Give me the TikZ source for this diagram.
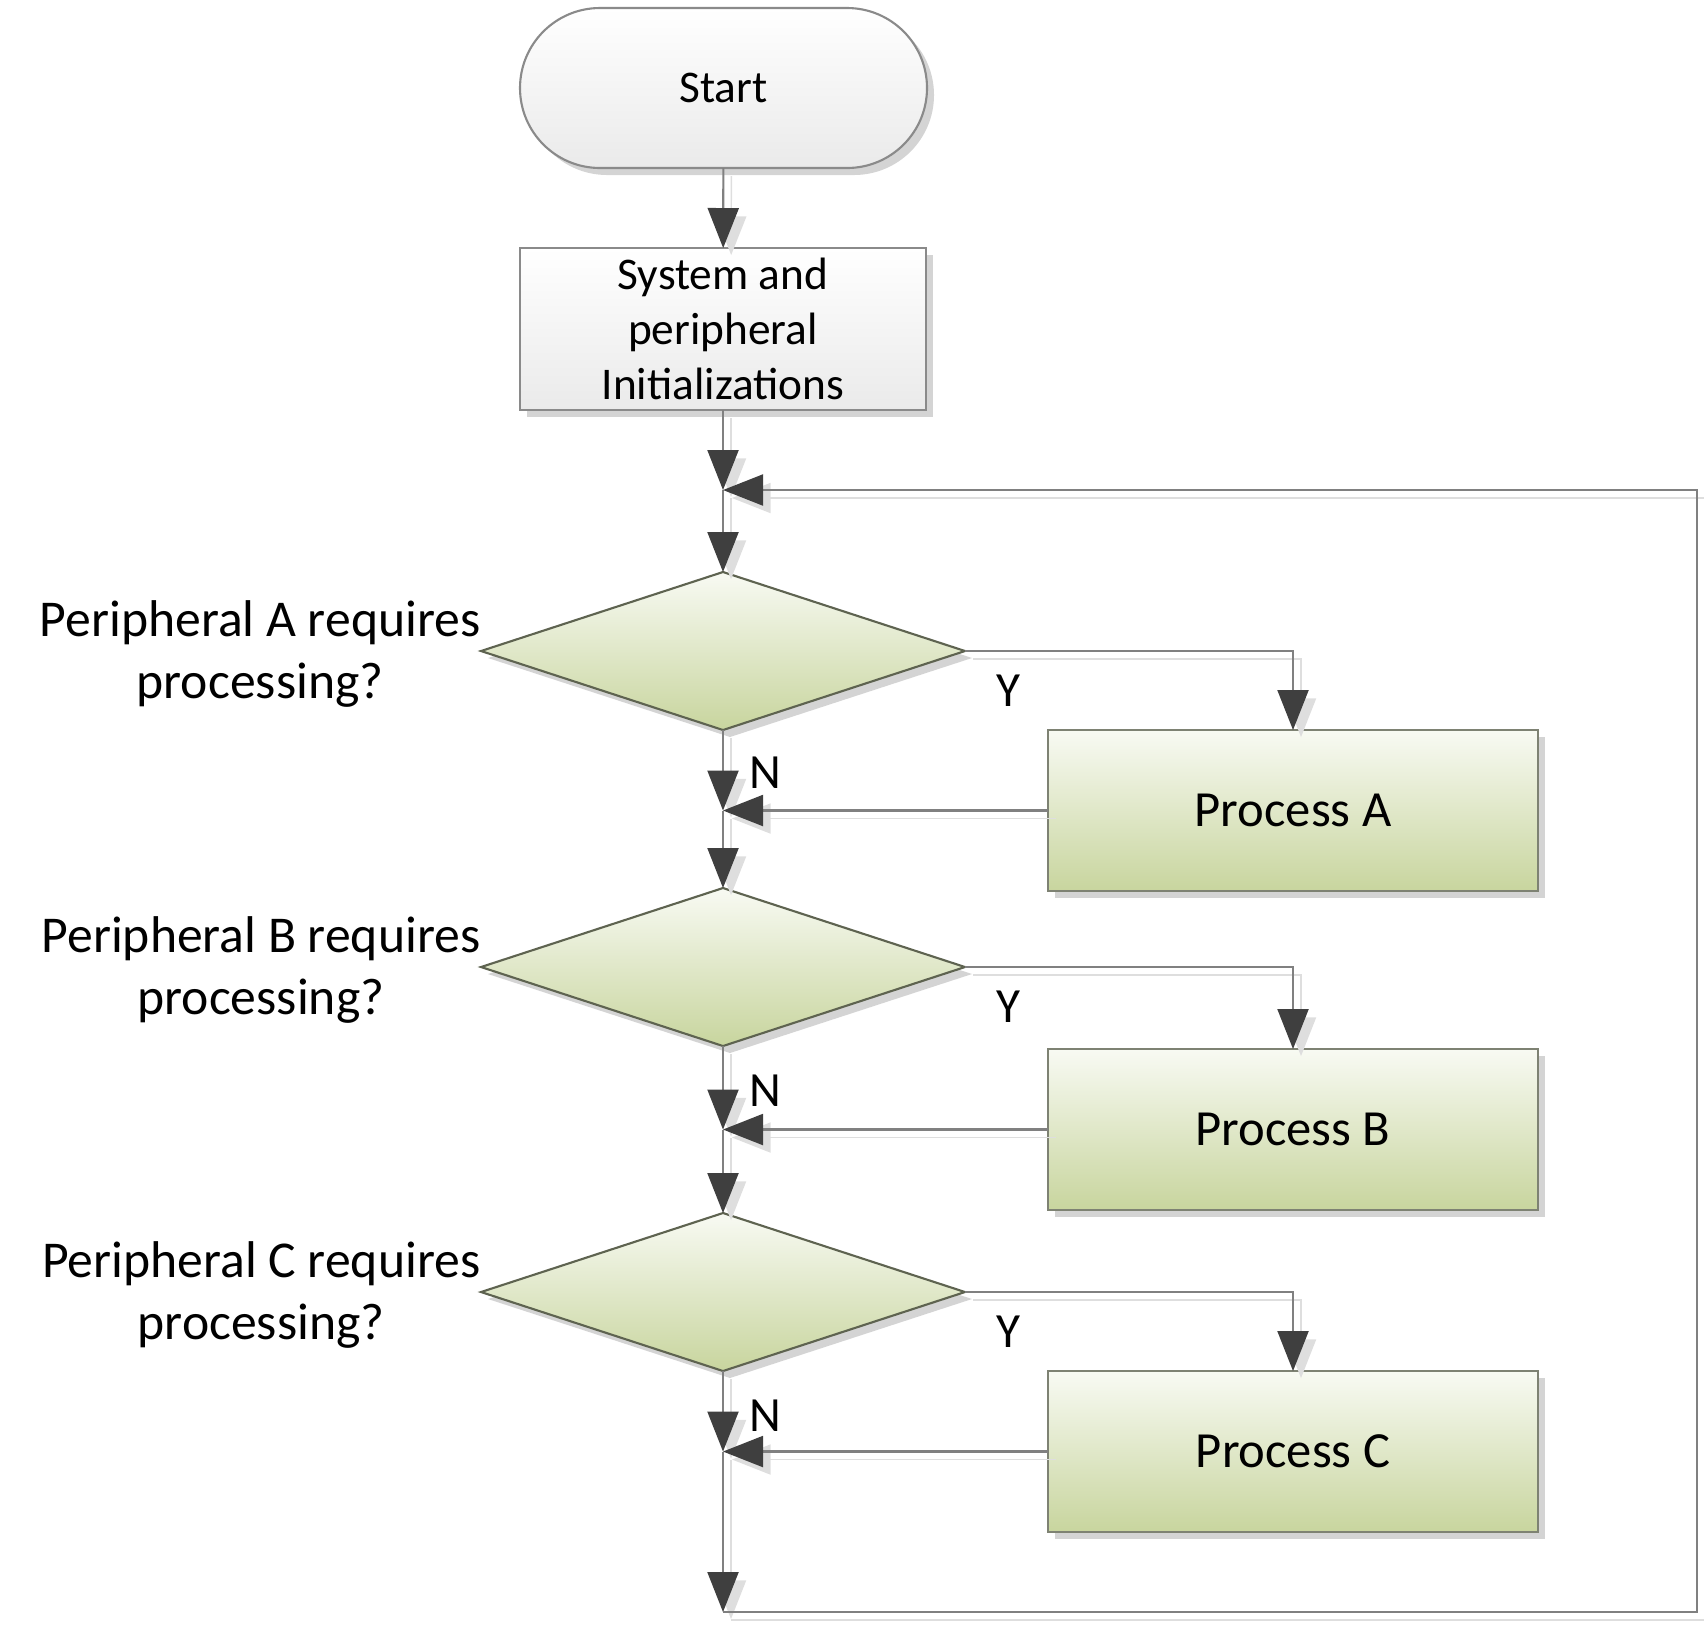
\documentclass[tikz,border=0pt]{standalone}
\usepackage{fontspec}
\setmainfont{Carlito}
\usetikzlibrary{arrows.meta,shapes.geometric,shadows}

\definecolor{linegray}{HTML}{808080}
\definecolor{tipgray}{HTML}{3F3F3F}
\definecolor{grayedge}{HTML}{8A8A8A}
\definecolor{graybot}{HTML}{EAEAEA}
\definecolor{greentop}{HTML}{F8FAF3}
\definecolor{greenbot}{HTML}{C8D59E}
\definecolor{greenedge}{HTML}{5E6350}

\begin{document}
\begin{tikzpicture}[
    boxshadow/.style={drop shadow={shadow xshift=0.07cm,shadow yshift=-0.07cm,fill=black!17,opacity=1}},
    termbox/.style={rectangle,rounded corners=0.8cm,draw=grayedge,line width=0.6pt,
      top color=white,bottom color=graybot,minimum width=4.07cm,minimum height=1.6cm,
      inner sep=0pt,outer sep=0pt,font=\fontsize{12.9}{15.6}\selectfont,boxshadow},
    initbox/.style={rectangle,draw=grayedge,line width=0.6pt,top color=white,bottom color=graybot,
      minimum width=4.06cm,minimum height=1.62cm,inner sep=0pt,outer sep=0pt,align=center,
      font=\fontsize{12.9}{15.6}\selectfont,boxshadow},
    askbox/.style={diamond,draw=greenedge,line width=0.6pt,top color=greentop,bottom color=greenbot,
      minimum width=4.84cm,minimum height=1.58cm,inner sep=0pt,outer sep=0pt,boxshadow},
    procbox/.style={rectangle,draw=greenedge!80,line width=0.6pt,top color=greentop,bottom color=greenbot,
      minimum width=4.9cm,minimum height=1.61cm,inner sep=0pt,outer sep=0pt,
      font=\fontsize{14.4}{17.3}\selectfont,boxshadow},
    asklabel/.style={anchor=east,inner sep=0pt,align=center,font=\fontsize{14.7}{17.8}\selectfont},
    yn/.style={inner sep=0pt,font=\fontsize{14}{16}\selectfont},
    flow/.style={draw=linegray,line width=0.6pt,-{Triangle[length=4mm,width=3.1mm,color=tipgray]},
      preaction={draw=black!13,-{Triangle[length=4mm,width=3.1mm,color=black!13]},
        transform canvas={shift={(0.08,-0.08)}}}}
  ]
  \useasboundingbox (0,0) rectangle (17.04,-16.30);

  % start and setup
  \node[termbox] (start) at (7.235,-0.88) {Start};
  \node[initbox] (init) at (7.23,-3.29) {System and\\peripheral\\Initializations};
  \coordinate (mtop) at (7.23,-4.90);

  % peripheral A
  \node[askbox] (decA) at (7.23,-6.51) {};
  \node[asklabel] (askA) at ([yshift=-0.03cm]decA.west) {Peripheral A requires\\processing?};
  \node[procbox] (procA) at (12.93,-8.105) {Process A};
  \coordinate (mA) at (decA.south |- procA.west);
  \node[yn] (yA) at ([shift={(0.43,-0.40)}]decA.east) {Y};
  \node[yn] (nA) at ([shift={(0.42,-0.43)}]decA.south) {N};

  % peripheral B
  \node[askbox] (decB) at (7.23,-9.67) {};
  \node[asklabel] (askB) at ([yshift=-0.03cm]decB.west) {Peripheral B requires\\processing?};
  \node[procbox] (procB) at (12.93,-11.295) {Process B};
  \coordinate (mB) at (decB.south |- procB.west);
  \node[yn] (yB) at ([shift={(0.43,-0.40)}]decB.east) {Y};
  \node[yn] (nB) at ([shift={(0.42,-0.45)}]decB.south) {N};

  % peripheral C
  \node[askbox] (decC) at (7.23,-12.92) {};
  \node[asklabel] (askC) at ([yshift=-0.03cm]decC.west) {Peripheral C requires\\processing?};
  \node[procbox] (procC) at (12.93,-14.515) {Process C};
  \coordinate (mC) at (decC.south |- procC.west);
  \node[yn] (yC) at ([shift={(0.43,-0.40)}]decC.east) {Y};
  \node[yn] (nC) at ([shift={(0.42,-0.45)}]decC.south) {N};

  \coordinate (bot) at (7.23,-16.12);
  \coordinate (loopBR) at (16.97,-16.12);
  \coordinate (loopTR) at (16.97,-4.90);

  % connectors
  \draw[flow] (start) -- (init);
  \draw[flow] (init) -- (mtop);
  \draw[flow] (mtop) -- (decA);
  \draw[flow] (decA.east) -| (procA.north);
  \draw[flow] (decA.south) -- (mA);
  \draw[flow] (procA.west) -- (mA);
  \draw[flow] (mA) -- (decB.north);
  \draw[flow] (decB.east) -| (procB.north);
  \draw[flow] (decB.south) -- (mB);
  \draw[flow] (procB.west) -- (mB);
  \draw[flow] (mB) -- (decC.north);
  \draw[flow] (decC.east) -| (procC.north);
  \draw[flow] (decC.south) -- (mC);
  \draw[flow] (procC.west) -- (mC);
  \draw[flow] (mC) -- (bot);

  % back to the top
  \draw[flow] (bot) -- (loopBR) -- (loopTR) -- (mtop);
\end{tikzpicture}
\end{document}
